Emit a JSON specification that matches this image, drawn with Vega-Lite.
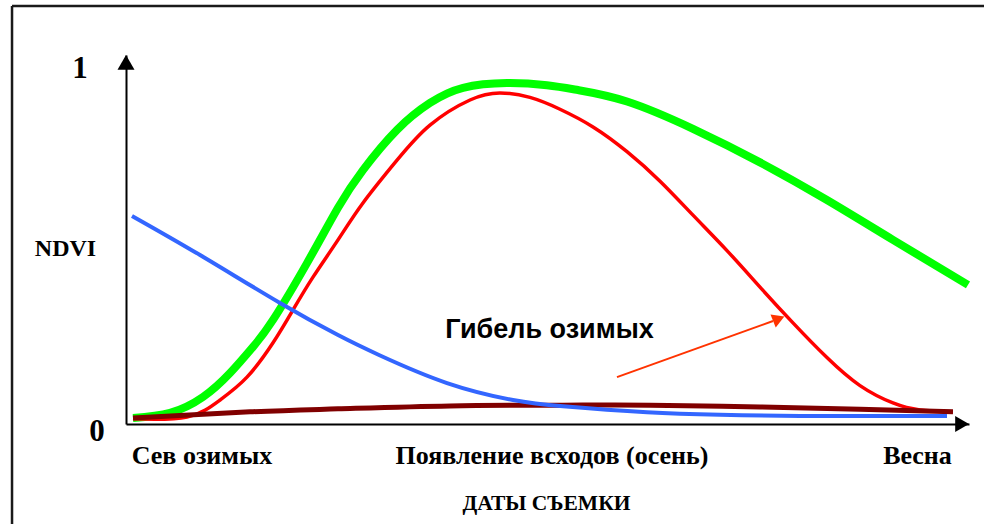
{
  "$schema": "https://vega.github.io/schema/vega-lite/v6.json",
  "width": 843,
  "height": 369,
  "autosize": {"type": "none"},
  "padding": {"left": 126, "top": 55, "right": 15, "bottom": 100},
  "background": "white",
  "config": {"view": {"stroke": null}},
  "datasets": {
    "curves": [
      {"s": "green", "x": 0.83, "y": 0.016}, {"s": "green", "x": 5.22, "y": 0.030}, {"s": "green", "x": 9.13, "y": 0.073},
      {"s": "green", "x": 12.34, "y": 0.138}, {"s": "green", "x": 15.07, "y": 0.209}, {"s": "green", "x": 17.44, "y": 0.282},
      {"s": "green", "x": 21.47, "y": 0.436}, {"s": "green", "x": 25.15, "y": 0.586},
      {"s": "green", "x": 28.11, "y": 0.688}, {"s": "green", "x": 32.15, "y": 0.797},
      {"s": "green", "x": 36.06, "y": 0.870}, {"s": "green", "x": 39.98, "y": 0.911}, {"s": "green", "x": 45.20, "y": 0.924},
      {"s": "green", "x": 49.94, "y": 0.918}, {"s": "green", "x": 53.62, "y": 0.905}, {"s": "green", "x": 59.43, "y": 0.874},
      {"s": "green", "x": 67.26, "y": 0.800}, {"s": "green", "x": 75.21, "y": 0.709}, {"s": "green", "x": 83.15, "y": 0.607},
      {"s": "green", "x": 90.98, "y": 0.499}, {"s": "green", "x": 99.88, "y": 0.377},
      {"s": "red", "x": 0.83, "y": 0.014}, {"s": "red", "x": 7.24, "y": 0.019}, {"s": "red", "x": 11.15, "y": 0.065},
      {"s": "red", "x": 14.35, "y": 0.127}, {"s": "red", "x": 17.44, "y": 0.220}, {"s": "red", "x": 19.81, "y": 0.309},
      {"s": "red", "x": 22.18, "y": 0.398}, {"s": "red", "x": 25.15, "y": 0.499}, {"s": "red", "x": 28.11, "y": 0.599},
      {"s": "red", "x": 32.15, "y": 0.715}, {"s": "red", "x": 36.06, "y": 0.810}, {"s": "red", "x": 40.81, "y": 0.878},
      {"s": "red", "x": 44.36, "y": 0.897}, {"s": "red", "x": 47.92, "y": 0.885}, {"s": "red", "x": 51.48, "y": 0.853},
      {"s": "red", "x": 55.40, "y": 0.805}, {"s": "red", "x": 59.43, "y": 0.738}, {"s": "red", "x": 63.35, "y": 0.658},
      {"s": "red", "x": 67.26, "y": 0.566}, {"s": "red", "x": 71.29, "y": 0.470}, {"s": "red", "x": 75.21, "y": 0.371},
      {"s": "red", "x": 79.12, "y": 0.274}, {"s": "red", "x": 83.15, "y": 0.180}, {"s": "red", "x": 87.07, "y": 0.104},
      {"s": "red", "x": 90.98, "y": 0.057}, {"s": "red", "x": 94.19, "y": 0.038}, {"s": "red", "x": 98.10, "y": 0.033},
      {"s": "brown", "x": 0.83, "y": 0.016}, {"s": "brown", "x": 14.71, "y": 0.033}, {"s": "brown", "x": 25.15, "y": 0.041},
      {"s": "brown", "x": 38.43, "y": 0.049}, {"s": "brown", "x": 51.84, "y": 0.051},
      {"s": "brown", "x": 62.16, "y": 0.051}, {"s": "brown", "x": 75.21, "y": 0.046}, {"s": "brown", "x": 87.07, "y": 0.040},
      {"s": "brown", "x": 98.10, "y": 0.033},
      {"s": "blue", "x": 0.71, "y": 0.564}, {"s": "blue", "x": 8.78, "y": 0.458}, {"s": "blue", "x": 18.27, "y": 0.328},
      {"s": "blue", "x": 25.15, "y": 0.241}, {"s": "blue", "x": 30.01, "y": 0.187}, {"s": "blue", "x": 38.08, "y": 0.111},
      {"s": "blue", "x": 45.91, "y": 0.065}, {"s": "blue", "x": 51.84, "y": 0.048}, {"s": "blue", "x": 61.80, "y": 0.032},
      {"s": "blue", "x": 70.46, "y": 0.025}, {"s": "blue", "x": 79.95, "y": 0.022}, {"s": "blue", "x": 97.39, "y": 0.022}
    ],
    "frame": [
      {"x": -13.52, "y": -0.3, "x2": -13.52, "y2": 1.133},
      {"x": -13.52, "y": 1.133, "x2": 102, "y2": 1.133}
    ],
    "yarrow": [{"x": 0, "y": 0.980}],
    "xarrow": [{"x": 99.18, "y": 0}],
    "arrowline": [{"x": 58.24, "y": 0.127, "x2": 76.75, "y2": 0.279}],
    "arrowhead": [{"x": 77.43, "y": 0.285}],
    "ylabels": [{"x": -5.457, "y": 0.938, "label": "1"}, {"x": -3.44, "y": -0.046, "label": "0"}],
    "note": [{"x": 50.24, "y": 0.233, "label": "Гибель озимых"}]
  },
  "encoding": {
    "x": {
      "field": "x", "type": "quantitative",
      "scale": {"domain": [0, 100], "nice": false, "zero": false},
      "axis": {
        "orient": "bottom",
        "values": [8.96, 50.47, 93.83],
        "labelExpr": "datum.value < 20 ? 'Сев озимых' : (datum.value < 70 ? 'Появление всходов (осень)' : 'Весна')",
        "labelFont": "Liberation Serif", "labelFontSize": 26, "labelFontWeight": "bold", "labelColor": "black",
        "labelBaseline": "alphabetic", "labelPadding": 39, "labelOverlap": false, "labelFlush": false, "labelBound": false,
        "labelLimit": 0,
        "ticks": false, "tickSize": 0, "grid": false,
        "domainColor": "black", "domainWidth": 2,
        "title": "ДАТЫ СЪЕМКИ",
        "titleFont": "Liberation Serif", "titleFontSize": 21.5, "titleFontWeight": "bold", "titleColor": "black",
        "titleBaseline": "alphabetic", "titleAlign": "center", "titleX": 420, "titleY": 85
      }
    },
    "y": {
      "field": "y", "type": "quantitative",
      "scale": {"domain": [0, 1], "nice": false, "zero": false},
      "axis": {
        "orient": "left", "labels": false, "ticks": false, "tickSize": 0, "grid": false,
        "domainColor": "black", "domainWidth": 2,
        "title": "NDVI", "titleAngle": 0,
        "titleFont": "Liberation Serif", "titleFontSize": 24, "titleFontWeight": "bold", "titleColor": "black",
        "titleAlign": "center", "titleBaseline": "alphabetic", "titleX": -61, "titleY": 200
      }
    }
  },
  "layer": [
    {
      "data": {"name": "frame"},
      "mark": {"type": "rule", "color": "#1a1a1a", "strokeWidth": 2.5},
      "encoding": {"x2": {"field": "x2"}, "y2": {"field": "y2"}}
    },
    {
      "data": {"name": "curves"},
      "transform": [{"filter": "datum.s === 'green'"}],
      "mark": {"type": "line", "color": "#00ff00", "strokeWidth": 8, "interpolate": "natural", "strokeCap": "butt"},
      "encoding": {}
    },
    {
      "data": {"name": "curves"},
      "transform": [{"filter": "datum.s === 'red'"}],
      "mark": {"type": "line", "color": "#ff0000", "strokeWidth": 3.5, "interpolate": "natural"},
      "encoding": {}
    },
    {
      "data": {"name": "curves"},
      "transform": [{"filter": "datum.s === 'brown'"}],
      "mark": {"type": "line", "color": "#800000", "strokeWidth": 5, "interpolate": "natural"},
      "encoding": {}
    },
    {
      "data": {"name": "curves"},
      "transform": [{"filter": "datum.s === 'blue'"}],
      "mark": {"type": "line", "color": "#3366ff", "strokeWidth": 4, "interpolate": "natural"},
      "encoding": {}
    },
    {
      "data": {"name": "yarrow"},
      "mark": {"type": "point", "shape": "triangle-up", "size": 289, "filled": true, "color": "black", "opacity": 1, "strokeWidth": 0},
      "encoding": {}
    },
    {
      "data": {"name": "xarrow"},
      "mark": {"type": "point", "shape": "triangle-right", "size": 256, "filled": true, "color": "black", "opacity": 1, "strokeWidth": 0},
      "encoding": {}
    },
    {
      "data": {"name": "arrowline"},
      "mark": {"type": "rule", "color": "#ff3300", "strokeWidth": 2},
      "encoding": {"x2": {"field": "x2"}, "y2": {"field": "y2"}}
    },
    {
      "data": {"name": "arrowhead"},
      "mark": {"type": "point", "shape": "triangle-up", "angle": 68, "size": 196, "filled": true, "color": "#ff3300", "opacity": 1, "strokeWidth": 0},
      "encoding": {}
    },
    {
      "data": {"name": "ylabels"},
      "mark": {"type": "text", "font": "Liberation Serif", "fontSize": 31, "fontWeight": "bold", "color": "black", "align": "center", "baseline": "alphabetic"},
      "encoding": {"text": {"field": "label"}}
    },
    {
      "data": {"name": "note"},
      "mark": {"type": "text", "font": "Liberation Sans", "fontSize": 27, "fontWeight": "bold", "color": "black", "align": "center", "baseline": "alphabetic"},
      "encoding": {"text": {"field": "label"}}
    }
  ]
}
